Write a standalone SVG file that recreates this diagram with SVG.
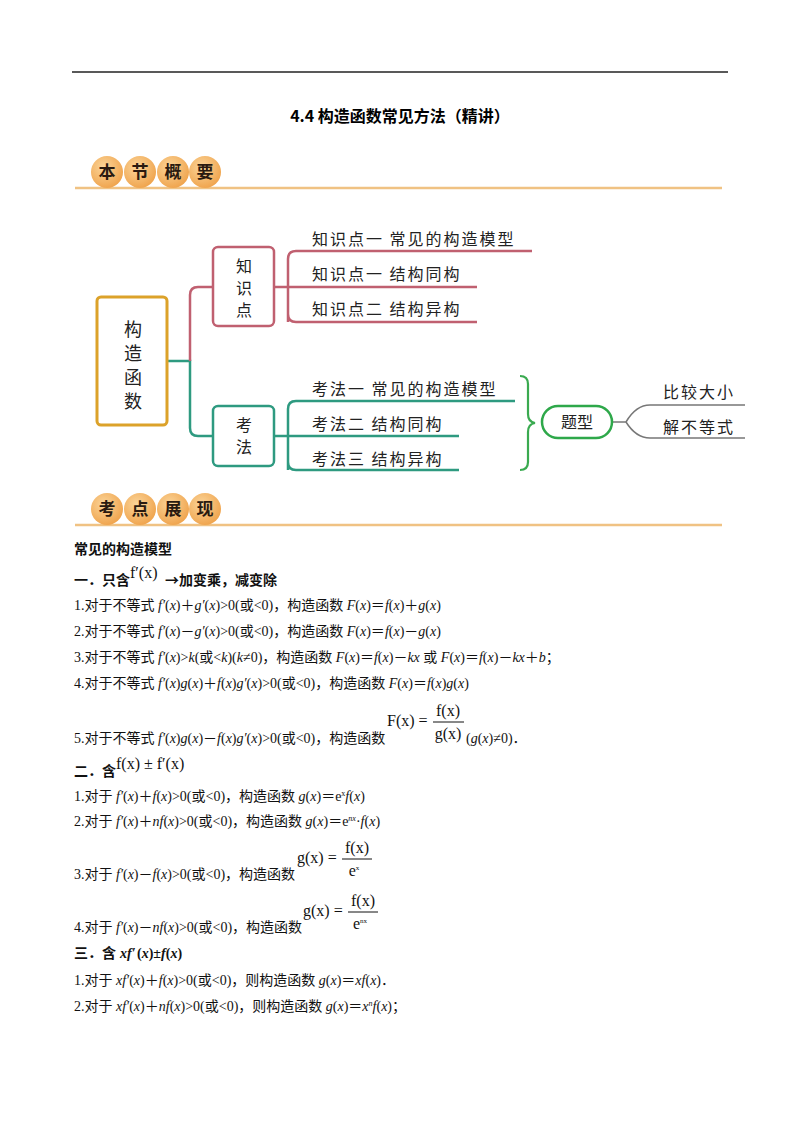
<svg xmlns="http://www.w3.org/2000/svg" width="800" height="1132" viewBox="0 0 800 1132">
<defs>
<radialGradient id="og" cx="0.4" cy="0.35" r="0.7"><stop offset="0" stop-color="#fbd59a"/><stop offset="1" stop-color="#efa24a"/></radialGradient>
</defs>
<style>
.b{font-family:"Liberation Serif","Noto Sans CJK SC",serif;font-size:14px;fill:#111}
.i{font-style:italic}
.h{font-family:"Noto Sans CJK SC",sans-serif;font-size:14px;font-weight:bold;fill:#111}
.m{font-family:"Noto Sans CJK SC",sans-serif;font-size:16px;fill:#222;letter-spacing:2px}
.bn{font-family:"Noto Sans CJK SC",sans-serif;font-size:17px;font-weight:bold;fill:#2a1a10;text-anchor:middle}
.f{font-family:"Liberation Serif",serif;font-size:16px;fill:#111}
.red{fill:none;stroke:#c06070;stroke-width:2.5}
.grn{fill:none;stroke:#2e9a80;stroke-width:2.5}
</style>
<rect width="800" height="1132" fill="#fff"/>
<line x1="72" y1="72" x2="728" y2="72" stroke="#222" stroke-width="1.5"/>
<text x="400" y="122" text-anchor="middle" style="font-family:'Noto Sans CJK SC',sans-serif;font-size:16px;font-weight:bold">4.4  构造函数常见方法（精讲）</text>
<g id="banner1">
<line x1="75" y1="188" x2="722" y2="188" stroke="#f0c283" stroke-width="2.5"/>
<circle cx="107" cy="172" r="16" fill="url(#og)"/><circle cx="140" cy="172" r="16" fill="url(#og)"/><circle cx="173" cy="172" r="16" fill="url(#og)"/><circle cx="205" cy="172" r="16" fill="url(#og)"/>
<text class="bn" x="107" y="178">本</text><text class="bn" x="140" y="178">节</text><text class="bn" x="173" y="178">概</text><text class="bn" x="205" y="178">要</text>
</g>
<g id="connectors">
<path class="grn" d="M167 361 H190 V428 Q190 436 198 436 H213"/>
<path class="red" d="M190 361 V295 Q190 287 198 287 H213"/>
<path class="red" d="M274 287 H288 M288 322 V259 Q288 251 296 251 H532 M288 287 H477 M288 314 Q288 322 296 322 H477"/>
<path class="grn" d="M274 436 H288 M288 470 V409 Q288 401 296 401 H515 M288 436 H459 M288 462 Q288 470 296 470 H459"/>
<path d="M520 376 Q528 376 528 384 V414 Q528 422 535 423 Q528 424 528 432 V462 Q528 470 520 470" fill="none" stroke="#3aaa50" stroke-width="2.2"/>
<path d="M612 422 H626 Q636 405 650 405 H745 M626 422 Q636 438 650 438 H745" fill="none" stroke="#777" stroke-width="1.5"/>
</g>
<g id="root"><rect x="97" y="297" width="70" height="128" rx="4" fill="#fff" stroke="#dca22a" stroke-width="3"/>
<text class="m" x="133" y="336" text-anchor="middle" style="font-size:18px;letter-spacing:0">构</text><text class="m" x="133" y="360" text-anchor="middle" style="font-size:18px;letter-spacing:0">造</text><text class="m" x="133" y="384" text-anchor="middle" style="font-size:18px;letter-spacing:0">函</text><text class="m" x="133" y="408" text-anchor="middle" style="font-size:18px;letter-spacing:0">数</text></g>
<g id="zsd"><rect x="213" y="247" width="61" height="79" rx="5" fill="#fff" stroke="#c06070" stroke-width="2.5"/>
<text class="m" x="244" y="272" text-anchor="middle" style="letter-spacing:0">知</text><text class="m" x="244" y="294" text-anchor="middle" style="letter-spacing:0">识</text><text class="m" x="244" y="316" text-anchor="middle" style="letter-spacing:0">点</text></g>
<g id="kf"><rect x="213" y="406" width="61" height="60" rx="5" fill="#fff" stroke="#2e9a80" stroke-width="2.5"/>
<text class="m" x="244" y="431" text-anchor="middle" style="letter-spacing:0">考</text><text class="m" x="244" y="453" text-anchor="middle" style="letter-spacing:0">法</text></g>
<g id="leaves">
<text class="m" x="312" y="245">知识点一  常见的构造模型</text>
<text class="m" x="312" y="280">知识点一  结构同构</text>
<text class="m" x="312" y="315">知识点二  结构异构</text>
<text class="m" x="312" y="395">考法一  常见的构造模型</text>
<text class="m" x="312" y="430">考法二  结构同构</text>
<text class="m" x="312" y="465">考法三  结构异构</text>
<text class="m" x="663" y="398">比较大小</text>
<text class="m" x="663" y="433">解不等式</text>
</g>
<g id="tx"><rect x="542" y="406" width="70" height="32" rx="16" fill="#fff" stroke="#2ea84a" stroke-width="2.5"/>
<text class="m" x="577" y="428" text-anchor="middle" style="letter-spacing:0">题型</text></g>
<g id="banner2">
<line x1="75" y1="525" x2="722" y2="525" stroke="#f0c283" stroke-width="2.5"/>
<circle cx="107" cy="509" r="16" fill="url(#og)"/><circle cx="140" cy="509" r="16" fill="url(#og)"/><circle cx="173" cy="509" r="16" fill="url(#og)"/><circle cx="205" cy="509" r="16" fill="url(#og)"/>
<text class="bn" x="107" y="515">考</text><text class="bn" x="140" y="515">点</text><text class="bn" x="173" y="515">展</text><text class="bn" x="205" y="515">现</text>
</g>
<g id="body">
<text class="h" x="74" y="554">常见的构造模型</text>
<text class="h" x="74" y="585">一．只含</text><text class="f" x="130" y="578">f′(x)</text><text class="h" x="165" y="585">→加变乘，减变除</text>
<text class="b" x="74" y="610">1.对于不等式 <tspan class="i">f′</tspan>(<tspan class="i">x</tspan>)＋<tspan class="i">g′</tspan>(<tspan class="i">x</tspan>)&gt;0(或&lt;0)，构造函数 <tspan class="i">F</tspan>(<tspan class="i">x</tspan>)＝<tspan class="i">f</tspan>(<tspan class="i">x</tspan>)＋<tspan class="i">g</tspan>(<tspan class="i">x</tspan>)</text>
<text class="b" x="74" y="636">2.对于不等式 <tspan class="i">f′</tspan>(<tspan class="i">x</tspan>)－<tspan class="i">g′</tspan>(<tspan class="i">x</tspan>)&gt;0(或&lt;0)，构造函数 <tspan class="i">F</tspan>(<tspan class="i">x</tspan>)＝<tspan class="i">f</tspan>(<tspan class="i">x</tspan>)－<tspan class="i">g</tspan>(<tspan class="i">x</tspan>)</text>
<text class="b" x="74" y="662">3.对于不等式 <tspan class="i">f′</tspan>(<tspan class="i">x</tspan>)&gt;<tspan class="i">k</tspan>(或&lt;<tspan class="i">k</tspan>)(<tspan class="i">k</tspan>≠0)，构造函数 <tspan class="i">F</tspan>(<tspan class="i">x</tspan>)＝<tspan class="i">f</tspan>(<tspan class="i">x</tspan>)－<tspan class="i">kx</tspan> 或 <tspan class="i">F</tspan>(<tspan class="i">x</tspan>)＝<tspan class="i">f</tspan>(<tspan class="i">x</tspan>)－<tspan class="i">kx</tspan>＋<tspan class="i">b</tspan>；</text>
<text class="b" x="74" y="688">4.对于不等式 <tspan class="i">f′</tspan>(<tspan class="i">x</tspan>)<tspan class="i">g</tspan>(<tspan class="i">x</tspan>)＋<tspan class="i">f</tspan>(<tspan class="i">x</tspan>)<tspan class="i">g′</tspan>(<tspan class="i">x</tspan>)&gt;0(或&lt;0)，构造函数 <tspan class="i">F</tspan>(<tspan class="i">x</tspan>)＝<tspan class="i">f</tspan>(<tspan class="i">x</tspan>)<tspan class="i">g</tspan>(<tspan class="i">x</tspan>)</text>
<text class="b" x="74" y="743">5.对于不等式 <tspan class="i">f′</tspan>(<tspan class="i">x</tspan>)<tspan class="i">g</tspan>(<tspan class="i">x</tspan>)－<tspan class="i">f</tspan>(<tspan class="i">x</tspan>)<tspan class="i">g′</tspan>(<tspan class="i">x</tspan>)&gt;0(或&lt;0)，构造函数</text>
<text class="f" x="387" y="726">F(x) =</text><text class="f" x="448" y="716" text-anchor="middle">f(x)</text><line x1="433" y1="722" x2="464" y2="722" stroke="#111"/><text class="f" x="448" y="739" text-anchor="middle">g(x)</text>
<text class="b" x="466" y="743">(<tspan class="i">g</tspan>(<tspan class="i">x</tspan>)≠0)．</text>
<text class="h" x="74" y="776">二．含</text><text class="f" x="116" y="769">f(x) ± f′(x)</text>
<text class="b" x="74" y="801">1.对于 <tspan class="i">f′</tspan>(<tspan class="i">x</tspan>)＋<tspan class="i">f</tspan>(<tspan class="i">x</tspan>)&gt;0(或&lt;0)，构造函数 <tspan class="i">g</tspan>(<tspan class="i">x</tspan>)＝e<tspan font-size="8" dy="-5">x</tspan><tspan dy="5" class="i">f</tspan>(<tspan class="i">x</tspan>)</text>
<text class="b" x="74" y="826">2.对于 <tspan class="i">f′</tspan>(<tspan class="i">x</tspan>)＋<tspan class="i">nf</tspan>(<tspan class="i">x</tspan>)&gt;0(或&lt;0)，构造函数 <tspan class="i">g</tspan>(<tspan class="i">x</tspan>)＝e<tspan font-size="8" dy="-5" class="i">nx</tspan><tspan dy="5">·</tspan><tspan class="i">f</tspan>(<tspan class="i">x</tspan>)</text>
<text class="b" x="74" y="879">3.对于 <tspan class="i">f′</tspan>(<tspan class="i">x</tspan>)－<tspan class="i">f</tspan>(<tspan class="i">x</tspan>)&gt;0(或&lt;0)，构造函数</text>
<text class="f" x="297" y="863">g(x) =</text><text class="f" x="357" y="853" text-anchor="middle">f(x)</text><line x1="342" y1="859" x2="372" y2="859" stroke="#111"/><text class="f" x="354" y="876" text-anchor="middle">e<tspan font-size="7" dy="-6">x</tspan></text>
<text class="b" x="74" y="932">4.对于 <tspan class="i">f′</tspan>(<tspan class="i">x</tspan>)－<tspan class="i">nf</tspan>(<tspan class="i">x</tspan>)&gt;0(或&lt;0)，构造函数</text>
<text class="f" x="303" y="916">g(x) =</text><text class="f" x="363" y="906" text-anchor="middle">f(x)</text><line x1="348" y1="912" x2="378" y2="912" stroke="#111"/><text class="f" x="360" y="929" text-anchor="middle">e<tspan font-size="7" dy="-6">nx</tspan></text>
<text class="h" x="74" y="958">三．含 </text><text class="b" x="120" y="958" style="font-weight:bold;font-style:italic">xf′</text><text class="b" x="137" y="958" style="font-weight:bold">(<tspan class="i">x</tspan>)±<tspan class="i">f</tspan>(<tspan class="i">x</tspan>)</text>
<text class="b" x="74" y="985">1.对于 <tspan class="i">xf′</tspan>(<tspan class="i">x</tspan>)＋<tspan class="i">f</tspan>(<tspan class="i">x</tspan>)&gt;0(或&lt;0)，则构造函数 <tspan class="i">g</tspan>(<tspan class="i">x</tspan>)＝<tspan class="i">xf</tspan>(<tspan class="i">x</tspan>)．</text>
<text class="b" x="74" y="1011">2.对于 <tspan class="i">xf′</tspan>(<tspan class="i">x</tspan>)＋<tspan class="i">nf</tspan>(<tspan class="i">x</tspan>)&gt;0(或&lt;0)，则构造函数 <tspan class="i">g</tspan>(<tspan class="i">x</tspan>)＝<tspan class="i">x</tspan><tspan font-size="8" dy="-5" class="i">n</tspan><tspan dy="5" class="i">f</tspan>(<tspan class="i">x</tspan>)；</text>
</g>
</svg>
